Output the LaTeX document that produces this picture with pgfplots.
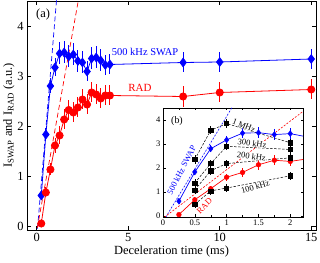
\documentclass[border=0pt]{standalone}
\usepackage{fontspec}
\setmainfont{Liberation Serif}
\usepackage{pgfplots}
\usepackage{pgfplotstable}
\pgfplotsset{compat=1.18}

\pgfplotstableread{
x y e
0.25 0.61 0.10
0.5 1.83 0.12
0.75 2.80 0.15
1.0 3.17 0.18
1.25 3.45 0.22
1.5 3.47 0.22
1.75 3.39 0.22
2.0 3.43 0.22
2.25 3.30 0.22
2.5 3.27 0.22
2.75 3.09 0.20
3.0 3.35 0.22
3.25 3.37 0.22
3.5 3.31 0.22
3.75 3.22 0.20
4.0 3.23 0.20
8 3.27 0.20
10 3.28 0.20
15 3.34 0.20
}\swap

\pgfplotstableread{
x y e
0.25 0.05 0.08
0.5 0.67 0.10
0.75 1.13 0.12
1.0 1.61 0.15
1.25 1.81 0.18
1.5 2.13 0.20
1.75 2.32 0.20
2.0 2.27 0.20
2.25 2.37 0.20
2.5 2.53 0.20
2.75 2.43 0.20
3.0 2.67 0.20
3.25 2.63 0.20
3.5 2.55 0.20
3.75 2.61 0.20
4.0 2.61 0.20
8 2.59 0.21
10 2.67 0.20
15 2.73 0.20
}\rad

\begin{document}
\begin{tikzpicture}[font=\fontsize{12.5}{15}\selectfont]
\begin{axis}[name=main, scale only axis, width=289bp, height=229bp,
  xmin=-0.53, xmax=15.26, ymin=-0.08, ymax=4.5,
  xtick={0,5,10,15}, ytick={0,1,2,3,4},
  major tick length=4bp, tick style={black, line width=0.5pt},
  axis line style={line width=0.6pt},
  /pgf/number format/assume math mode=true,
  xlabel={Deceleration time (ms)},
  ylabel={I\textsubscript{SWAP} and I\textsubscript{RAD} (a.u.)},
  xlabel style={yshift=3bp},
  ylabel style={yshift=-4bp},
  ]
\addplot [blue, line width=0.7pt, dash pattern=on 5bp off 3bp] coordinates {(-0.1,-0.69) (1.3,5.47)};
\addplot [red, line width=0.7pt, dash pattern=on 5bp off 3bp] coordinates {(-0.2,-0.51) (2.6,5.17)};
\addplot [blue, line width=0.8pt, mark=diamond*, mark size=4.3bp,
  error bars/.cd, y dir=both, y explicit, error mark=none,
  error bar style={line width=0.9pt}] table[x=x, y=y, y error=e] {\swap};
\addplot [red, line width=0.8pt, mark=*, mark size=3.6bp,
  error bars/.cd, y dir=both, y explicit, error mark=none,
  error bar style={line width=0.9pt}] table[x=x, y=y, y error=e] {\rad};
\node[anchor=center] at (axis cs:0.35,4.22) {(a)};
\node[blue, anchor=west, inner sep=0pt, font=\fontsize{10.5}{12}\selectfont] at (axis cs:4.1,3.48) {500 kHz SWAP};
\node[red, anchor=west, inner sep=0pt, font=\fontsize{11}{12}\selectfont] at (axis cs:5.0,2.76) {RAD};
\end{axis}

\begin{axis}[at={(136bp,13bp)}, anchor=south west, scale only axis,
  width=140bp, height=109bp,
  xmin=0, xmax=2.2, ymin=-0.05, ymax=4.5,
  xtick={0,0.5,1,1.5,2}, xticklabels={0,0.5,1,1.5,2},
  minor x tick num=1,
  ytick={0,1,2,3,4},
  axis background/.style={fill=white},
  major tick length=2.5bp, minor tick length=2bp,
  tick style={black, line width=0.4pt},
  axis line style={line width=0.5pt},
  /pgf/number format/assume math mode=true,
  tick label style={font=\fontsize{8.5}{10}\selectfont},
  xticklabel style={yshift=1bp},
  yticklabel style={xshift=1bp},
  ]
\addplot [blue, line width=0.6pt, dash pattern=on 2bp off 1.5bp] coordinates {(-0.1,-0.69) (1.3,5.47)};
\addplot [red, line width=0.6pt, dash pattern=on 2bp off 1.5bp] coordinates {(-0.2,-0.51) (2.6,5.17)};
\addplot [blue, line width=0.7pt] table[x=x, y=y] {\swap};
\addplot [red, line width=0.7pt] table[x=x, y=y] {\rad};
\addplot [blue, only marks, mark=diamond*, mark size=3bp, skip coords between index={8}{40},
  error bars/.cd, y dir=both, y explicit, error mark=none,
  error bar style={line width=0.7pt}] table[x=x, y=y, y error=e] {\swap};
\addplot [red, only marks, mark=*, mark size=2.4bp, skip coords between index={8}{40},
  error bars/.cd, y dir=both, y explicit, error mark=none,
  error bar style={line width=0.7pt}] table[x=x, y=y, y error=e] {\rad};
% 1 MHz
\addplot [black, line width=0.5pt, dash pattern=on 2.5bp off 1.5bp, mark=square*, mark size=2.1bp, mark options={solid},
  error bars/.cd, y dir=both, y fixed=0.17, error mark=none, error bar style={solid, line width=0.6pt}]
  coordinates {(0.5,2.35) (0.75,3.57) (1.0,3.85) (2.0,3.05)};
% 300 kHz
\addplot [black, line width=0.5pt, dash pattern=on 2.5bp off 1.5bp, mark=square*, mark size=2.1bp, mark options={solid},
  error bars/.cd, y dir=both, y fixed=0.17, error mark=none, error bar style={solid, line width=0.6pt}]
  coordinates {(0.5,1.37) (0.75,2.18) (1.0,2.9) (2.0,2.77)};
% 200 kHz
\addplot [black, line width=0.5pt, dash pattern=on 2.5bp off 1.5bp, mark=square*, mark size=2.1bp, mark options={solid},
  error bars/.cd, y dir=both, y fixed=0.17, error mark=none, error bar style={solid, line width=0.6pt}]
  coordinates {(0.5,1.08) (0.75,1.88) (1.0,2.18) (2.0,2.42)};
% 100 kHz
\addplot [black, line width=0.5pt, dash pattern=on 2.5bp off 1.5bp, mark=square*, mark size=2.1bp, mark options={solid},
  error bars/.cd, y dir=both, y fixed=0.17, error mark=none, error bar style={solid, line width=0.6pt}]
  coordinates {(0.5,0.48) (0.75,1.04) (1.0,1.16) (2.0,1.67)};
\node[font=\fontsize{10}{12}\selectfont] at (axis cs:0.22,3.97) {(b)};
\node[fill=white, inner sep=0.3pt, rotate=-22, font=\fontsize{8.5}{10}\selectfont] at (axis cs:1.27,3.77) {1 MHz};
\node[fill=white, inner sep=0.3pt, rotate=-8, font=\fontsize{8.5}{10}\selectfont] at (axis cs:1.40,3.03) {300 kHz};
\node[fill=white, inner sep=0.3pt, rotate=-8, font=\fontsize{8.5}{10}\selectfont] at (axis cs:1.39,2.49) {200 kHz};
\node[fill=white, inner sep=0.3pt, rotate=16, font=\fontsize{8.5}{10}\selectfont] at (axis cs:1.45,1.21) {100 kHz};
\node[blue, inner sep=0pt, rotate=63, font=\fontsize{8.5}{10}\selectfont] at (axis cs:0.29,1.9) {500 kHz SWAP};
\node[red, inner sep=0pt, rotate=45, font=\fontsize{8.5}{10}\selectfont] at (axis cs:0.65,0.42) {RAD};
\end{axis}
\pgfresetboundingbox
\path ([shift={(-27bp,-33bp)}]main.south west) rectangle ([shift={(4bp,1bp)}]main.north east);
\end{tikzpicture}
\end{document}
